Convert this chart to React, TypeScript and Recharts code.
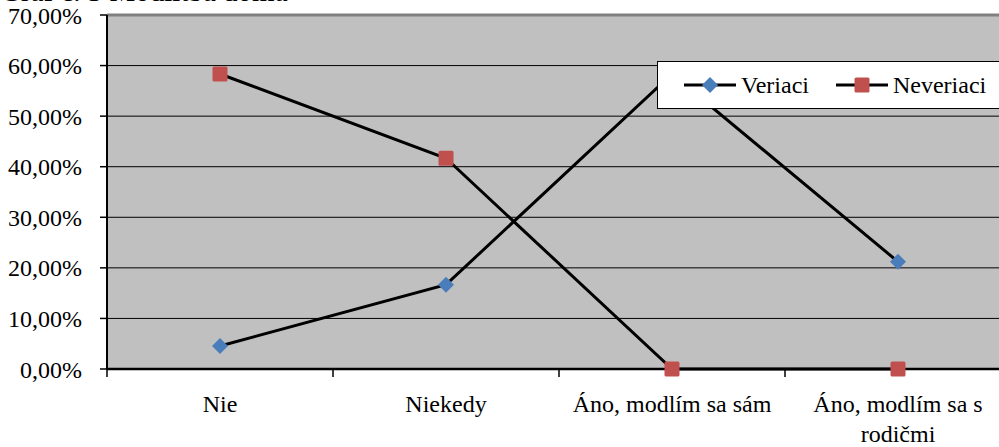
import { ComposedChart, Line, XAxis, YAxis, CartesianGrid, ReferenceLine, Legend } from "recharts";

// Graf č. 5 – Modlitba doma (Veriaci vs Neveriaci)
const categories = ["Nie", "Niekedy", "Áno, modlím sa sám", "Áno, modlím sa s\nrodičmi"];
const veriaci = [4.55, 16.67, 58.33, 21.21];
const neveriaci = [58.33, 41.67, 0, 0];
const yTicks = [0, 10, 20, 30, 40, 50, 60, 70];

const data = categories.map((c, i) => ({ name: c, veriaci: veriaci[i], neveriaci: neveriaci[i] }));

const FONT = "Liberation Serif, Noto Serif, FreeSerif, DejaVu Serif, Times New Roman, serif";
const BLUE = "#4A7EBB";
const RED = "#C0504D";
const BAND = 226;

const pct = (v: number) => v.toFixed(2).replace(".", ",") + "%";

function Diamond({ cx, cy, r = 8 }: { cx: number; cy: number; r?: number }) {
  return <polygon points={`${cx},${cy - r} ${cx + r},${cy} ${cx},${cy + r} ${cx - r},${cy}`} fill={BLUE} />;
}

function Square({ cx, cy, s = 15 }: { cx: number; cy: number; s?: number }) {
  return <rect x={cx - s / 2} y={cy - s / 2} width={s} height={s} rx={1.5} fill={RED} />;
}

// popisky kategórií: deliaca čiarka medzi kategóriami + text (viacriadkový cez \n)
function CatTick(props: any) {
  const { x, y, payload } = props;
  const lines = String(payload.value).split("\n");
  return (
    <g>
      <line x1={x - BAND / 2} x2={x - BAND / 2} y1={y} y2={y + 8} stroke="#000" strokeWidth={1.5} />
      <text x={x} y={y + 43} textAnchor="middle" fontFamily={FONT} fontSize={24} fill="#000">
        {lines.map((l, i) => <tspan key={i} x={x} dy={i ? 30 : 0}>{l}</tspan>)}
      </text>
    </g>
  );
}

function LegendBox() {
  const item = (kind: "d" | "s", label: string) => (
    <div style={{ display: "flex", alignItems: "center" }}>
      <svg width={54} height={20}>
        <line x1={1} x2={53} y1={10} y2={10} stroke="#000" strokeWidth={3} />
        {kind === "d" ? <Diamond cx={27} cy={10} r={8} /> : <Square cx={27} cy={10} s={15} />}
      </svg>
      <span style={{ marginLeft: 4 }}>{label}</span>
    </div>
  );
  return (
    <div style={{
      boxSizing: "border-box", width: 370, height: 48, background: "#fff", border: "1.5px solid #000",
      display: "flex", alignItems: "center", gap: 26, paddingLeft: 25,
      fontFamily: FONT, fontSize: 24, color: "#000",
    }}>
      {item("d", "Veriaci")}
      {item("s", "Neveriaci")}
    </div>
  );
}

export default function App() {
  return (
    <div style={{ position: "absolute", left: 0, top: 0, width: 999, height: 447, overflow: "hidden", background: "#fff", fontFamily: FONT }}>
      <div style={{ position: "absolute", left: 0, top: -24, fontFamily: FONT, fontSize: 29, lineHeight: "30px", whiteSpace: "nowrap" }}>
        Graf č. 5 Modlitba doma
      </div>
      <div style={{ position: "absolute", left: 0, top: 0 }}>
        <ComposedChart width={1020} height={447} data={data} margin={{ top: 15, right: 9, bottom: 0, left: 0 }}>
          <CartesianGrid fill="#C0C0C0" stroke="#000" strokeOpacity={1} vertical={false} />
          <ReferenceLine y={70} stroke="#808080" strokeWidth={3} />
          <XAxis dataKey="name" scale="band" height={78} interval={0} tickSize={0} tickMargin={0}
                 axisLine={{ stroke: "#000", strokeWidth: 2.5 }} tickLine={false} tick={<CatTick />} />
          <YAxis domain={[0, 70]} ticks={yTicks} width={107} tickSize={7} tickMargin={18}
                 tickFormatter={pct} axisLine={{ stroke: "#000", strokeWidth: 2 }}
                 tickLine={{ stroke: "#000", strokeWidth: 1.5 }}
                 tick={{ fontFamily: FONT, fontSize: 24, fill: "#000" }} />
          <Legend layout="horizontal" verticalAlign="middle" align="center" content={<LegendBox />}
                  wrapperStyle={{ left: 657, top: 61, width: 370 }} />
          <Line dataKey="veriaci" name="Veriaci" stroke="#000" strokeWidth={3} isAnimationActive={false}
                dot={(p: any) => <Diamond key={`v${p.index}`} cx={p.cx} cy={p.cy} />} />
          <Line dataKey="neveriaci" name="Neveriaci" stroke="#000" strokeWidth={3} isAnimationActive={false}
                dot={(p: any) => <Square key={`n${p.index}`} cx={p.cx} cy={p.cy} />} />
        </ComposedChart>
      </div>
    </div>
  );
}
